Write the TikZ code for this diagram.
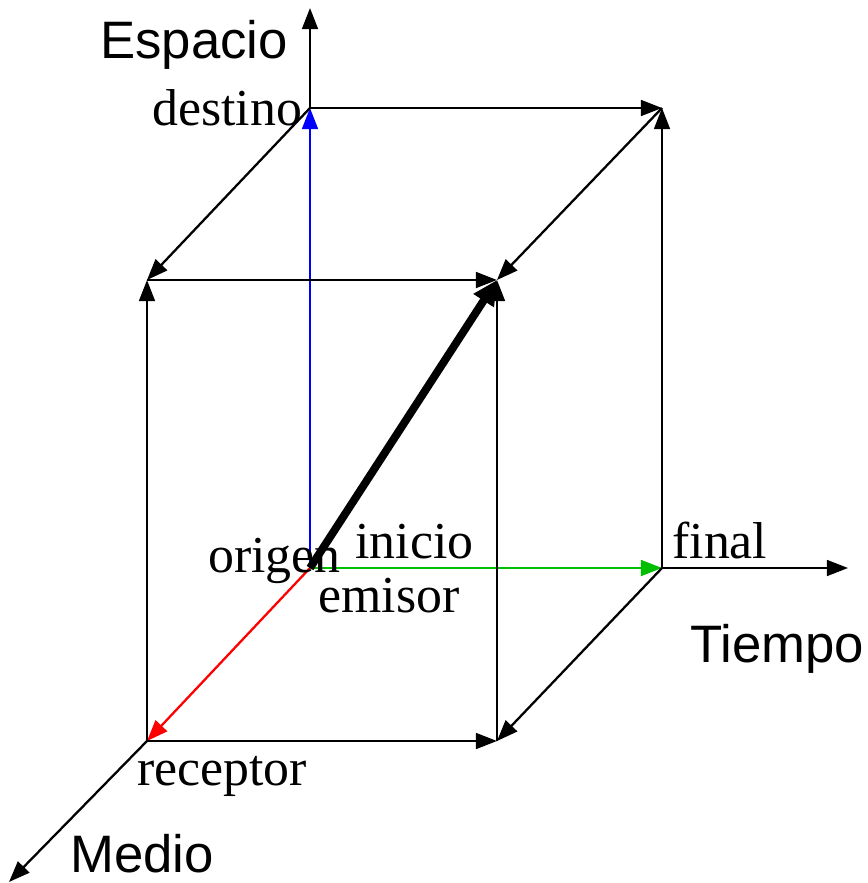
\documentclass[tikz,border=0pt]{standalone}
\usepackage{fontspec}
\setmainfont{Liberation Serif}
\setsansfont{Liberation Sans}
\usetikzlibrary{arrows.meta}

\begin{document}
\begin{tikzpicture}[
    x=0.02cm, y=-0.02cm,
    edge/.style={-{Triangle[length=12pt,width=9pt]}, line width=1.3pt},
    heavy/.style={-{Triangle[length=14pt,width=13pt]}, line width=4.5pt},
    axislabel/.style={font=\fontsize{30}{32}\selectfont\sffamily, anchor=base west, inner sep=0pt},
    cornerlabel/.style={font=\fontsize{29.5}{32}\selectfont, anchor=base west, inner sep=0pt}
  ]
    \useasboundingbox (0,0) rectangle (867,883);

    % Corners
    \coordinate (org) at (310,568);
    \coordinate (dst) at (310,108);
    \coordinate (fin) at (662,568);
    \coordinate (rcp) at (147,741);
    \coordinate (dstfin) at (662,108);
    \coordinate (dstrcp) at (147,280);
    \coordinate (all) at (497,280);
    \coordinate (finrcp) at (497,741);
    \coordinate (espend) at (310,8);
    \coordinate (tieend) at (848,568);
    \coordinate (medend) at (9,882);

    % Axes
    \draw[edge] (dst) -- (espend);
    \draw[edge] (fin) -- (tieend);
    \draw[edge] (rcp) -- (medend);
    \draw[edge, blue] (org) -- (dst);
    \draw[edge, green!75!black] (org) -- (fin);
    \draw[edge, red] (org) -- (rcp);

    % Box
    \draw[edge] (dst) -- (dstfin);
    \draw[edge] (dst) -- (dstrcp);
    \draw[edge] (dstfin) -- (all);
    \draw[edge] (dstrcp) -- (all);
    \draw[edge] (rcp) -- (dstrcp);
    \draw[edge] (finrcp) -- (all);
    \draw[edge] (fin) -- (dstfin);
    \draw[edge] (rcp) -- (finrcp);
    \draw[edge] (fin) -- (finrcp);
    \draw[heavy] (org) -- (all);

    % Labels
    \node[axislabel] (espacio) at (100,58) {Espacio};
    \node[axislabel] (tiempo) at (690,662) {Tiempo};
    \node[axislabel] (medio) at (70,872) {Medio};
    \node[cornerlabel] (destino) at (152,125) {destino};
    \node[cornerlabel] (origen) at (208,572) {origen};
    \node[cornerlabel] (inicio) at (355,558) {inicio};
    \node[cornerlabel] (emisor) at (318,612) {emisor};
    \node[cornerlabel] (final) at (672,558) {final};
    \node[cornerlabel] (receptor) at (137,785) {receptor};
  \end{tikzpicture}
\end{document}
